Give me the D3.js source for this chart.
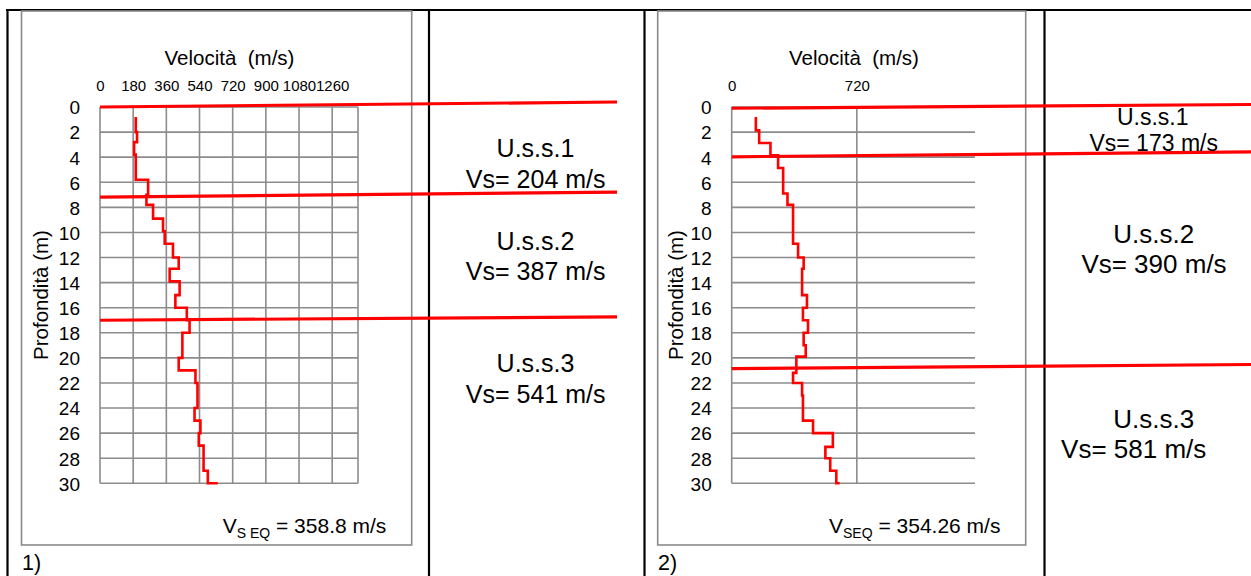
<!DOCTYPE html>
<html><head><meta charset="utf-8">
<script src="https://cdn.jsdelivr.net/npm/d3@7"></script>
<style>
body{margin:0;background:#fff}
svg{display:block}
text{font-family:"Liberation Sans",Arial,Helvetica,sans-serif;fill:#000}
</style></head>
<body><svg id="c" width="1251" height="576"></svg>
<script>
// ---------- data ----------
const depthTicks = [0,2,4,6,8,10,12,14,16,18,20,22,24,26,28,30];
const velTicks1 = [0,180,360,540,720,900,1080,1260];
const velTicks2 = [0,720];

// profile 1: layer top depth (m) and velocity (m/s)
const depthTop1 = [0.8,2,2.8,3.8,5.8,7,7.8,8.9,9.9,10.9,12,12.9,13.9,15,16,17,18,20,21,22,24,25,26,27,29];
const vel1      = [194,201,185,194,261,252,288,342,351,396,427,378,432,409,471,486,447,427,518,529,513,545,536,562,585];
const tailVel1  = 639;

// profile 2
const depthTop2 = [0.8,1.86,2.87,3.85,4.86,6.9,7.8,10.9,12,12.9,15,16,17,18,19,19.9,21.2,22,23,25,26,27.1,28,29];
const vel2      = [139,158,223,267,296,321,353,382,414,405,433,410,439,414,426,372,353,405,410,468,582,539,567,602];
const tailVel2  = 621;
const bottomDepth = 30;

// layer boundaries (depth at left end / right end of the drawn line)
const bStart1 = [0, 7.18, 17.0];
const bEnd1   = [-0.4, 6.78, 16.73];
const bStart2 = [0.1, 3.97, 20.85];
const bEnd2   = [-0.2, 3.57, 20.53];

const units1 = ["U.s.s.1","U.s.s.2","U.s.s.3"];
const vs1    = ["Vs= 204 m/s","Vs= 387 m/s","Vs= 541 m/s"];
const units2 = ["U.s.s.1","U.s.s.2","U.s.s.3"];
const vs2    = ["Vs= 173 m/s","Vs= 390 m/s","Vs= 581 m/s"];

const vseq1 = {main:"V", sub:"S EQ", rest:" = 358.8 m/s"};
const vseq2 = {main:"V", sub:"SEQ", rest:" = 354.26 m/s"};

// ---------- drawing ----------
const svg = d3.select("#c");
svg.append("rect").attr("width",1251).attr("height",576).attr("fill","#fff");

// outer table frame
const blk = svg.append("g").attr("stroke","#000").attr("stroke-width",2.2);
blk.append("line").attr("x1",6).attr("x2",1251).attr("y1",10).attr("y2",10);
[7.5,429,644.5,1044.5].forEach(x=>blk.append("line").attr("x1",x).attr("x2",x).attr("y1",9).attr("y2",576));

function panel(o){
  const g = svg.append("g");
  // inner gray frame
  g.append("rect").attr("x",o.fx0).attr("y",11).attr("width",o.fx1-o.fx0).attr("height",545-11)
    .attr("fill","none").attr("stroke","#8a8a8a").attr("stroke-width",1.6);

  const x = d3.scaleLinear().domain([0,1400]).range([o.px0,o.px1]);
  const y = d3.scaleLinear().domain([0,30]).range([107,483.3]);

  const grid = g.append("g").attr("stroke","#8c8c8c").attr("stroke-width",1.6);
  const right = o.rightBorder ? x(1400) : o.px1;
  depthTicks.forEach(d=>grid.append("line").attr("x1",x(0)).attr("x2",right).attr("y1",y(d)).attr("y2",y(d)));
  const vx = o.rightBorder ? o.velTicks.concat([1400]) : o.velTicks;
  vx.forEach(v=>grid.append("line").attr("x1",x(v)).attr("x2",x(v)).attr("y1",y(0)).attr("y2",y(30)));

  // axes (labels only)
  const ax = g.append("g").attr("transform",`translate(0,${y(0)})`)
    .call(d3.axisTop(x).tickValues(o.velTicks).tickSize(0).tickPadding(16.5).tickFormat(d3.format("d")));
  ax.select(".domain").remove();
  ax.selectAll("text").attr("font-size",15).attr("font-family","Liberation Sans, Arial").attr("fill","#000");

  const ay = g.append("g").attr("transform",`translate(${x(0)},0)`)
    .call(d3.axisLeft(y).tickValues(depthTicks).tickSize(0).tickPadding(20).tickFormat(d3.format("d")));
  ay.select(".domain").remove();
  ay.selectAll("text").attr("font-size",19).attr("font-family","Liberation Sans, Arial").attr("fill","#000").attr("dy","0.36em");

  // titles
  g.append("text").attr("x",o.titleX).attr("y",65).attr("text-anchor","middle").attr("font-size",20.5)
    .text("Velocità\u00a0 (m/s)");
  g.append("text").attr("transform",`translate(${o.ytX},295) rotate(-90)`).attr("text-anchor","middle")
    .attr("font-size",20.5).attr("dy","0.35em").text("Profondità (m)");

  // profile
  const pts = [];
  o.depthTop.forEach((d,i)=>{
    const bot = i < o.depthTop.length-1 ? o.depthTop[i+1] : bottomDepth;
    pts.push([o.vel[i],d]); pts.push([o.vel[i],bot]);
  });
  pts.push([o.tail,bottomDepth]);
  g.append("path").datum(pts).attr("fill","none").attr("stroke","#ff0000").attr("stroke-width",2.6)
    .attr("stroke-linejoin","miter")
    .attr("d",d3.line().x(p=>x(p[0])).y(p=>y(p[1])));

  // boundaries
  o.bStart.forEach((d,i)=>{
    g.append("line").attr("x1",x(0)).attr("x2",o.bX2).attr("y1",y(d)).attr("y2",y(o.bEnd[i]))
      .attr("stroke","#ff0000").attr("stroke-width",3.2);
  });

  // layer labels
  o.units.forEach((u,i)=>{
    g.append("text").attr("x",o.lab[i][0]).attr("y",o.lab[i][1]).attr("text-anchor","middle")
      .attr("font-size",o.labSize[i]).text(u);
    g.append("text").attr("x",o.lab[i][2]).attr("y",o.lab[i][3]).attr("text-anchor","middle")
      .attr("font-size",o.labSize[i]).text(o.vs[i]);
  });

  // Vseq
  const t = g.append("text").attr("x",o.vseqX).attr("y",532.7).attr("font-size",21);
  t.append("tspan").text(o.vseq.main);
  t.append("tspan").attr("font-size",14).attr("dy",5).text(o.vseq.sub);
  t.append("tspan").attr("dy",-5).text(o.vseq.rest);

  g.append("text").attr("x",o.numX).attr("y",569.5).attr("font-size",21.5).text(o.num);
}

panel({fx0:21.5,fx1:411.7,px0:100,px1:358,rightBorder:true,velTicks:velTicks1,
  depthTop:depthTop1,vel:vel1,tail:tailVel1,bStart:bStart1,bEnd:bEnd1,bX2:617,
  titleX:229.5,ytX:41,units:units1,vs:vs1,
  lab:[[535.5,157.3,535.7,187.7],[535.5,250,535.7,280],[535.5,371.7,535.7,402.7]],
  labSize:[25,25,25],vseq:vseq1,vseqX:222.7,num:"1)",numX:22});

panel({fx0:657.7,fx1:1025.7,px0:731.7,px1:975,rightBorder:false,velTicks:velTicks2,
  depthTop:depthTop2,vel:vel2,tail:tailVel2,bStart:bStart2,bEnd:bEnd2,bX2:1251,
  titleX:854,ytX:676,units:units2,vs:vs2,
  lab:[[1152.7,125,1153.7,150.7],[1153.7,242.7,1154,273.3],[1153.7,427.7,1133.7,457.7]],
  labSize:[23,26,26],vseq:vseq2,vseqX:829,num:"2)",numX:658});
</script></body></html>
